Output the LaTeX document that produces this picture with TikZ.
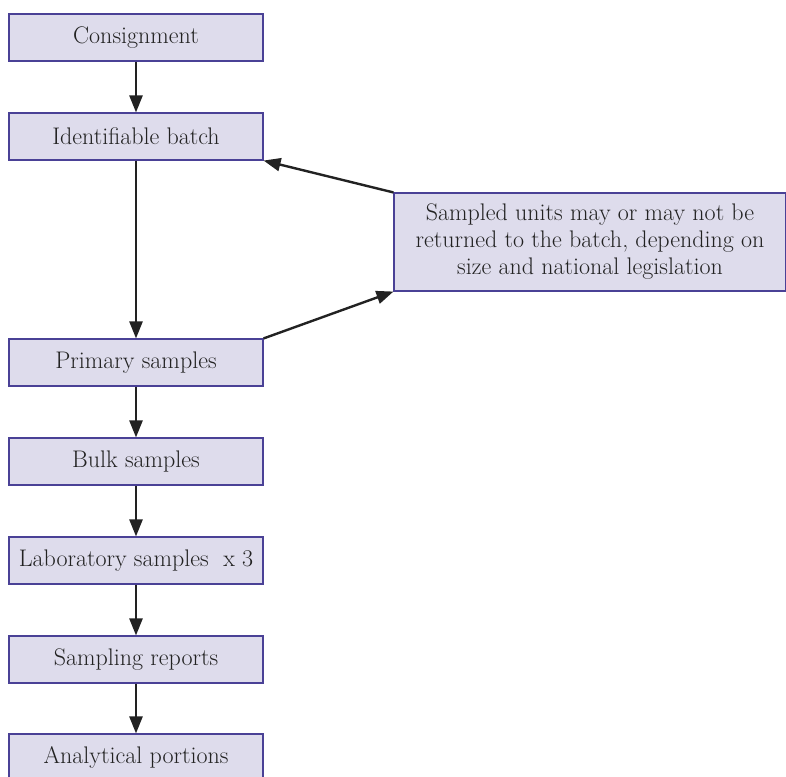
\documentclass[tikz,border=0pt]{standalone}
\usetikzlibrary{arrows.meta}
\definecolor{boxfill}{HTML}{DEDCEC}
\definecolor{boxline}{HTML}{4A4196}
\definecolor{txt}{HTML}{222222}
\begin{document}
\begin{tikzpicture}[x=1pt,y=1pt,
    box/.style={draw=boxline,fill=boxfill,line width=1.1pt,inner sep=0pt,
        minimum width=254pt,minimum height=47pt,text=txt,
        font=\fontsize{24}{27}\selectfont},
    note/.style={box,minimum width=392pt,minimum height=98pt,align=center},
    arr/.style={line width=2.4pt,color=txt,-{Triangle[length=17pt,width=13pt]}}]
    \useasboundingbox (0,0) rectangle (786,-776);
    \def\xc{136}
    \node[box] (cons)  at (\xc,-37.5)  {Consignment};
    \node[box] (batch) at (\xc,-136.5) {Identifiable batch};
    \node[box] (prim)  at (\xc,-362.5) {Primary samples};
    \node[box] (bulk)  at (\xc,-461.5) {Bulk samples};
    \node[box] (lab)   at (\xc,-560.5) {Laboratory samples\ \ x 3};
    \node[box] (rep)   at (\xc,-659.5) {Sampling reports};
    \node[box] (anal)  at (\xc,-757.5) {Analytical portions};
    \node[note] (units) at (590,-242) {Sampled units may or may not be\\
        returned to the batch, depending on\\ size and national legislation};
    % main chain
    \draw[arr] (cons) -- (batch);
    \draw[arr] (batch) -- (prim);
    \draw[arr] (prim) -- (bulk);
    \draw[arr] (bulk) -- (lab);
    \draw[arr] (lab) -- (rep);
    \draw[arr] (rep) -- (anal);
    % side note
    \draw[arr] (units.north west) -- (batch.south east);
    \draw[arr] (prim.north east) -- (units.south west);
\end{tikzpicture}
\end{document}
